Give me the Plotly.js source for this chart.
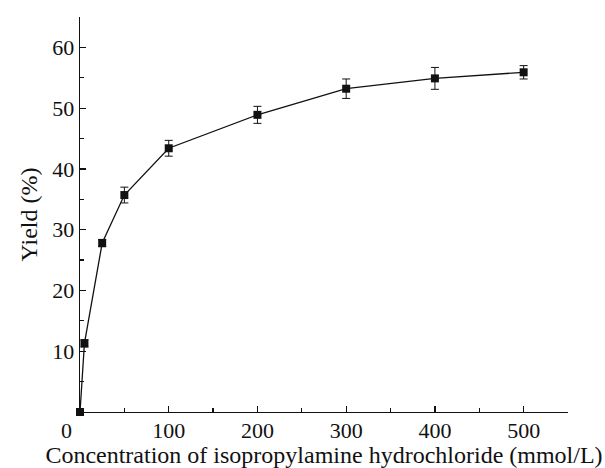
<!DOCTYPE html>
<html>
<head>
<meta charset="utf-8">
<script src="https://cdn.plot.ly/plotly-3.0.1.min.js"></script>
<style>html,body{margin:0;padding:0;background:#fff;}#chart{width:605px;height:468px;}</style>
</head>
<body>
<div id="chart"></div>
<script>
const concentration = [0, 5, 25, 50, 100, 200, 300, 400, 500];
const yieldPct = [0, 11.3, 27.8, 35.7, 43.4, 48.9, 53.2, 54.9, 55.9];
const yieldErr = [0, 0.6, 0.6, 1.3, 1.3, 1.4, 1.6, 1.8, 1.1];
const xTickVals = [100, 200, 300, 400, 500];
const yTickVals = [10, 20, 30, 40, 50, 60];

const fam = '"Liberation Serif", "Times New Roman", serif';
const tickFont = {family: fam, color: '#111', size: 22};
const titleFont = {family: fam, color: '#111', size: 24};

const trace = {
  x: concentration, y: yieldPct, type: 'scatter', mode: 'lines+markers',
  line: {color: '#111', width: 1.3},
  marker: {symbol: 'square', size: 8, color: '#111'},
  error_y: {type: 'data', array: yieldErr, visible: true, color: '#111', thickness: 1, width: 4},
  cliponaxis: false
};

const layout = {
  width: 605, height: 468,
  margin: {l: 80, r: 37, t: 17, b: 56},
  paper_bgcolor: '#fff', plot_bgcolor: '#fff',
  showlegend: false,
  font: tickFont,
  xaxis: {
    range: [0, 550], showgrid: false, zeroline: false,
    showline: true, linecolor: '#111', linewidth: 1.3,
    tickmode: 'array', tickvals: xTickVals,
    ticks: 'inside', ticklen: 6, tickcolor: '#111', tickwidth: 1.2,
    ticklabelstandoff: -2,
    minor: {tickmode: 'array', tickvals: [50, 150, 250, 350, 450, 550], ticks: 'inside', ticklen: 4, tickcolor: '#111'},
    tickfont: tickFont,
    title: {text: 'Concentration of isopropylamine hydrochloride (mmol/L)', font: titleFont, standoff: 0}
  },
  yaxis: {
    range: [0, 65], showgrid: false, zeroline: false,
    showline: true, linecolor: '#111', linewidth: 1.3,
    tickmode: 'array', tickvals: yTickVals,
    ticks: 'inside', ticklen: 6, tickcolor: '#111', tickwidth: 1.2,
    minor: {tickmode: 'array', tickvals: [5, 15, 25, 35, 45, 55], ticks: 'inside', ticklen: 4, tickcolor: '#111'},
    tickfont: tickFont,
    title: {text: 'Yield (%)', font: titleFont, standoff: 8}
  },
  annotations: [{
    text: '0', xref: 'paper', yref: 'paper', x: -0.027, y: 0, yshift: -4,
    xanchor: 'center', yanchor: 'top', showarrow: false, font: tickFont
  }]
};

Plotly.newPlot('chart', [trace], layout, {displayModeBar: false, staticPlot: true});
</script>
</body>
</html>
